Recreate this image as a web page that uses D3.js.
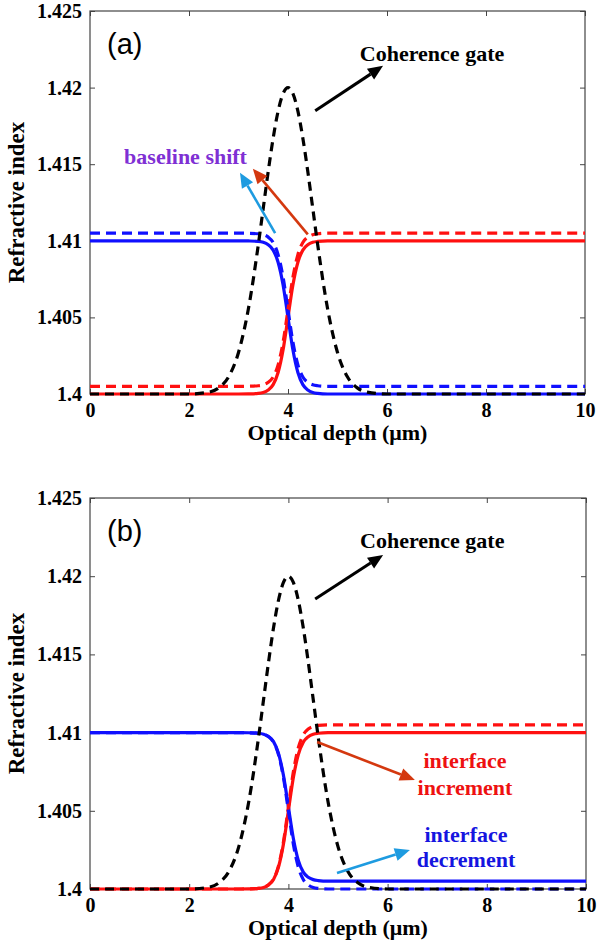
<!DOCTYPE html>
<html>
<head>
<meta charset="utf-8">
<script src="https://cdn.jsdelivr.net/npm/d3@7.9.0/dist/d3.min.js"></script>
<style>
  body { margin: 0; background: #fff; }
  svg { display: block; }
</style>
</head>
<body>
<svg id="chart" width="600" height="950"></svg>
<script>
// optical depth sample positions (um)
const depth = [0, 1, 2, 2.4, 2.6, 2.8, 3.0, 3.2, 3.4, 3.5, 3.6, 3.7, 3.8, 3.9, 4.0,
  4.1, 4.2, 4.3, 4.4, 4.5, 4.6, 4.8, 5.0, 5.2, 5.4, 5.6, 6, 8, 10];

// coherence gate (same in both panels)
const gate = [1.4, 1.4, 1.4, 1.40012, 1.4004, 1.40112, 1.40271, 1.40556, 1.40974, 1.41213, 1.41452,
  1.4167, 1.41846, 1.4196, 1.42, 1.4196, 1.41846, 1.4167, 1.41452, 1.41213, 1.40974, 1.40556,
  1.40271, 1.40112, 1.4004, 1.40012, 1.4, 1.4, 1.4];

// panel (a)
const aBlue = [1.41, 1.41, 1.41, 1.41, 1.41, 1.41, 1.41, 1.40999, 1.40996, 1.4099, 1.40974, 1.40939,
  1.4086, 1.40713, 1.405, 1.40287, 1.4014, 1.40061, 1.40026, 1.4001, 1.40004, 1.4, 1.4, 1.4, 1.4,
  1.4, 1.4, 1.4, 1.4];
const aBlueDash = [1.4105, 1.4105, 1.4105, 1.4105, 1.4105, 1.4105, 1.4105, 1.41049, 1.41046, 1.4104,
  1.41024, 1.40989, 1.4091, 1.40763, 1.4055, 1.40337, 1.4019, 1.40111, 1.40076, 1.4006, 1.40054,
  1.4005, 1.4005, 1.4005, 1.4005, 1.4005, 1.4005, 1.4005, 1.4005];
const aRed = [1.4, 1.4, 1.4, 1.4, 1.4, 1.4, 1.4, 1.40001, 1.40004, 1.4001, 1.40026, 1.40061, 1.4014,
  1.40287, 1.405, 1.40713, 1.4086, 1.40939, 1.40974, 1.4099, 1.40996, 1.41, 1.41, 1.41, 1.41, 1.41,
  1.41, 1.41, 1.41];
const aRedDash = [1.4005, 1.4005, 1.4005, 1.4005, 1.4005, 1.4005, 1.4005, 1.40051, 1.40054, 1.4006,
  1.40076, 1.40111, 1.4019, 1.40337, 1.4055, 1.40763, 1.4091, 1.40989, 1.41024, 1.4104, 1.41046,
  1.4105, 1.4105, 1.4105, 1.4105, 1.4105, 1.4105, 1.4105, 1.4105];

// panel (b)
const bBlue = [1.41, 1.41, 1.41, 1.41, 1.41, 1.41, 1.41, 1.40999, 1.40996, 1.4099, 1.40975, 1.40942,
  1.40867, 1.40727, 1.40525, 1.40323, 1.40183, 1.40108, 1.40075, 1.4006, 1.40054, 1.4005, 1.4005,
  1.4005, 1.4005, 1.4005, 1.4005, 1.4005, 1.4005];
const bBlueDash = aBlue;
const bRed = aRed;
const bRedDash = [1.4, 1.4, 1.4, 1.4, 1.4, 1.4, 1.4, 1.40001, 1.40004, 1.40011, 1.40027, 1.40064,
  1.40147, 1.40301, 1.40525, 1.40749, 1.40903, 1.40986, 1.41023, 1.41039, 1.41046, 1.4105, 1.4105,
  1.4105, 1.4105, 1.4105, 1.4105, 1.4105, 1.4105];

// axes
const xTicks = [0, 2, 4, 6, 8, 10];
const yTicks = [1.4, 1.405, 1.41, 1.415, 1.42, 1.425];
const yTickLabels = ['1.4', '1.405', '1.41', '1.415', '1.42', '1.425'];

// annotations in data units, tail -> tip
const aArrows = [
  { from: [4.55, 1.41849], to: [5.92, 1.42142], color: '#000' },
  { from: [3.74, 1.4105], to: [3.03, 1.41445], color: '#1e9be0' },
  { from: [4.4, 1.41042], to: [3.29, 1.41471], color: '#d4380f' },
];
const aLabels = [
  { text: 'Coherence gate', at: [6.91, 1.42174], color: '#000' },
  { text: 'baseline shift', at: [1.93, 1.41504], color: '#7f30d4' },
];
const bArrows = [
  { from: [4.54, 1.41854], to: [5.91, 1.42136], color: '#000' },
  { from: [4.58, 1.4094], to: [6.55, 1.40697], color: '#d4380f' },
  { from: [4.98, 1.40102], to: [6.45, 1.40249], color: '#1e9be0' },
];
const bLabels = [
  { text: 'Coherence gate', at: [6.9, 1.4218], color: '#000' },
  { text: 'interface', at: [7.56, 1.40774], color: '#ee1111' },
  { text: 'increment', at: [7.56, 1.40601], color: '#ee1111' },
  { text: 'interface', at: [7.58, 1.4030], color: '#1515e0' },
  { text: 'decrement', at: [7.58, 1.40141], color: '#1515e0' },
];

const svg = d3.select('#chart');
const serif = '"Liberation Serif", "Times New Roman", serif';

function drawPanel(cfg) {
  const x = d3.scaleLinear().domain([0, 10]).range([90, cfg.right]);
  const y = d3.scaleLinear().domain([1.4, 1.425]).range([cfg.bottom, cfg.top]);
  const g = svg.append('g');

  const axisStyle = (sel) => {
    sel.select('.domain').remove();
    sel.selectAll('.tick line').attr('stroke', '#444').attr('stroke-width', 1);
    sel.selectAll('.tick text')
      .attr('fill', '#000')
      .attr('font-family', serif)
      .attr('font-size', 20)
      .attr('font-weight', 'bold');
  };

  g.append('g').attr('transform', `translate(0,${cfg.bottom})`)
    .call(d3.axisBottom(x).tickValues(xTicks).tickSizeInner(-5).tickSizeOuter(0).tickPadding(9))
    .call(axisStyle);
  g.append('g').attr('transform', `translate(0,${cfg.top})`)
    .call(d3.axisTop(x).tickValues(xTicks).tickSizeInner(-5).tickSizeOuter(0).tickFormat(''))
    .call(axisStyle);
  g.append('g').attr('transform', 'translate(90,0)')
    .call(d3.axisLeft(y).tickValues(yTicks).tickSizeInner(-5).tickSizeOuter(0).tickPadding(8)
      .tickFormat((d, i) => yTickLabels[i]))
    .call(axisStyle);
  g.append('g').attr('transform', `translate(${cfg.right},0)`)
    .call(d3.axisRight(y).tickValues(yTicks).tickSizeInner(-5).tickSizeOuter(0).tickFormat(''))
    .call(axisStyle);

  g.append('rect')
    .attr('x', 90).attr('y', cfg.top)
    .attr('width', cfg.right - 90).attr('height', cfg.bottom - cfg.top)
    .attr('fill', 'none').attr('stroke', '#444').attr('stroke-width', 1.2);

  const line = d3.line().x((d) => x(d[0])).y((d) => y(d[1])).curve(d3.curveMonotoneX);
  const series = [
    { v: cfg.red, color: '#ff1010', dash: null },
    { v: cfg.blue, color: '#1010ff', dash: null },
    { v: cfg.redDash, color: '#ff1010', dash: '10,6' },
    { v: cfg.blueDash, color: '#1010ff', dash: '10,6' },
    { v: gate, color: '#000', dash: '9,6' },
  ];
  series.forEach((s) => {
    g.append('path')
      .datum(depth.map((d, i) => [d, s.v[i]]))
      .attr('d', line)
      .attr('fill', 'none')
      .attr('stroke', s.color)
      .attr('stroke-width', 3.2)
      .attr('stroke-dasharray', s.dash);
  });

  cfg.arrows.forEach((a) => {
    const x1 = x(a.from[0]), y1 = y(a.from[1]);
    const x2 = x(a.to[0]), y2 = y(a.to[1]);
    const ang = Math.atan2(y2 - y1, x2 - x1);
    const len = 15, half = 6.5;
    const bx = x2 - len * Math.cos(ang), by = y2 - len * Math.sin(ang);
    g.append('line')
      .attr('x1', x1).attr('y1', y1).attr('x2', bx).attr('y2', by)
      .attr('stroke', a.color).attr('stroke-width', a.color === '#000' ? 3 : 2.6);
    const px = -Math.sin(ang) * half, py = Math.cos(ang) * half;
    g.append('path')
      .attr('d', `M${x2},${y2}L${bx + px},${by + py}L${bx - px},${by - py}Z`)
      .attr('fill', a.color);
  });

  cfg.labels.forEach((l) => {
    g.append('text')
      .attr('x', x(l.at[0])).attr('y', y(l.at[1]))
      .attr('text-anchor', 'middle')
      .attr('font-family', serif).attr('font-weight', 'bold').attr('font-size', 22)
      .attr('fill', l.color)
      .text(l.text);
  });

  g.append('text')
    .attr('x', 107).attr('y', cfg.top + 43)
    .attr('font-family', '"Liberation Sans", Arial, sans-serif').attr('font-size', 29)
    .text(cfg.tag);

  g.append('text')
    .attr('x', (90 + cfg.right) / 2).attr('y', cfg.bottom + 46)
    .attr('text-anchor', 'middle')
    .attr('font-family', serif).attr('font-weight', 'bold').attr('font-size', 22)
    .text('Optical depth (\u03bcm)');

  g.append('text')
    .attr('transform', `translate(24,${(cfg.top + cfg.bottom) / 2}) rotate(-90)`)
    .attr('text-anchor', 'middle')
    .attr('font-family', serif).attr('font-weight', 'bold').attr('font-size', 23)
    .text('Refractive index');
}

drawPanel({
  top: 11, bottom: 394, right: 585, tag: '(a)',
  blue: aBlue, blueDash: aBlueDash, red: aRed, redDash: aRedDash,
  arrows: aArrows, labels: aLabels,
});
drawPanel({
  top: 498, bottom: 889, right: 586, tag: '(b)',
  blue: bBlue, blueDash: bBlueDash, red: bRed, redDash: bRedDash,
  arrows: bArrows, labels: bLabels,
});
</script>
</body>
</html>
